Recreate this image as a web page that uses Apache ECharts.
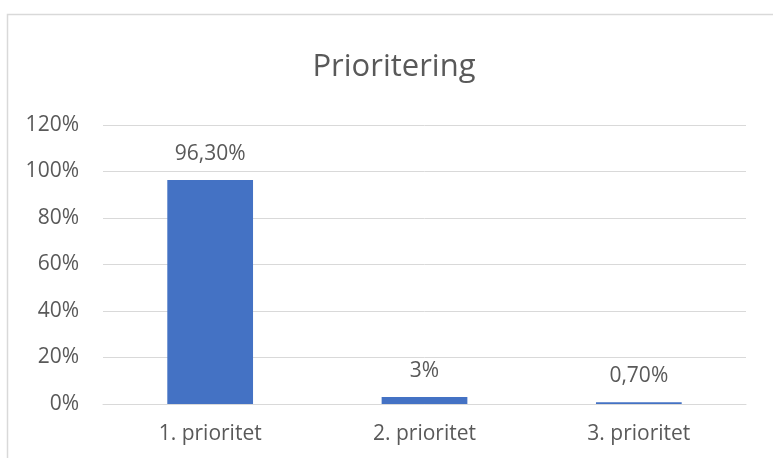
<!DOCTYPE html>
<html>
<head>
<meta charset="utf-8">
<script src="https://cdn.jsdelivr.net/npm/echarts@6/dist/echarts.min.js"></script>
<style>
  html, body { margin: 0; padding: 0; background: #fff; }
  #chart { width: 773px; height: 458px; }
</style>
</head>
<body>
<div id="chart"></div>
<script>
// data
var categories = ['1. prioritet', '2. prioritet', '3. prioritet'];
var values = [96.3, 3, 0.7];
var valueLabels = ['96,30%', '3%', '0,70%'];

var textColor = '#595959';
var font = 'Open Sans';

var chart = echarts.init(document.getElementById('chart'));
var option = {
  backgroundColor: '#fff',
  animation: false,
  title: {
    text: 'Prioritering',
    left: 394,
    top: 52,
    textAlign: 'center',
    padding: 0,
    textStyle: { fontFamily: font, fontSize: 31, fontWeight: 'normal', color: textColor }
  },
  // outer chart frame, cut off at right and bottom
  graphic: [{
    type: 'rect',
    shape: { x: 7.5, y: 14.5, width: 900, height: 600 },
    style: { fill: 'none', stroke: '#D9D9D9', lineWidth: 1.5 },
    silent: true
  }],
  grid: { left: 103, right: 27, top: 125, bottom: 54 },
  xAxis: {
    type: 'category',
    data: categories,
    axisLine: { lineStyle: { color: '#D9D9D9', width: 1 } },
    axisTick: { show: false },
    axisLabel: { margin: 20, fontFamily: font, fontSize: 21, color: textColor }
  },
  yAxis: {
    type: 'value',
    min: 0,
    max: 120,
    interval: 20,
    axisLine: { show: false },
    axisTick: { show: false },
    splitLine: { lineStyle: { color: '#D9D9D9', width: 1 } },
    axisLabel: { margin: 24, fontFamily: font, fontSize: 21, color: textColor, formatter: '{value}%' }
  },
  series: [{
    type: 'bar',
    data: values,
    barWidth: '40%',
    itemStyle: { color: '#4472C4' },
    label: {
      show: true,
      position: 'top',
      distance: 16,
      fontFamily: font,
      fontSize: 21,
      color: textColor,
      formatter: function (p) { return valueLabels[p.dataIndex]; }
    }
  }]
};
chart.setOption(option);
</script>
</body>
</html>
